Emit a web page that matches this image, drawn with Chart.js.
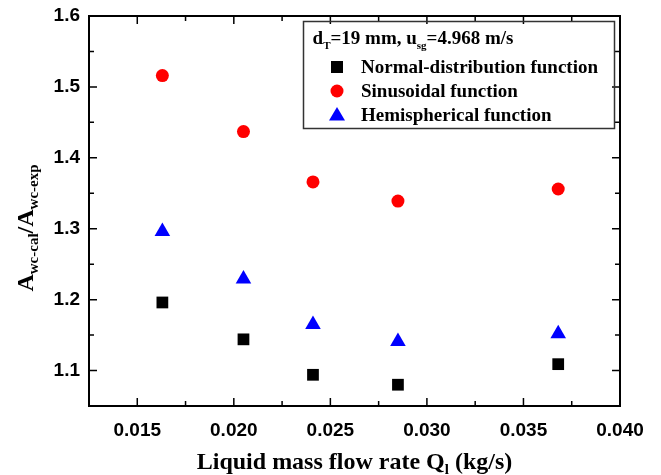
<!DOCTYPE html>
<html>
<head>
<meta charset="utf-8">
<script src="https://cdn.jsdelivr.net/npm/chart.js@4.4.1/dist/chart.umd.min.js"></script>
<style>
  html, body { margin: 0; padding: 0; background: #fff; }
  #wrap { width: 661px; height: 475px; }
</style>
</head>
<body>
<div id="wrap"><canvas id="chart" width="661" height="475"></canvas></div>
<script>
// values
const flowRates = [0.0163, 0.0205, 0.0241, 0.0285, 0.0368];
const normalValues = [1.196, 1.144, 1.094, 1.080, 1.109];
const sinusValues = [1.516, 1.437, 1.366, 1.339, 1.356];
const hemiValues = [1.296, 1.229, 1.165, 1.141, 1.152];

const xTicks = [0.015, 0.020, 0.025, 0.030, 0.035, 0.040];
const yTicks = [1.1, 1.2, 1.3, 1.4, 1.5, 1.6];

const seriesNames = ['Normal-distribution function', 'Sinusoidal function', 'Hemispherical function'];

const SERIF = '"Liberation Serif", "Times New Roman", serif';
const SANS = '"Liberation Sans", Arial, sans-serif';

function toPoints(ys) {
    return flowRates.map((x, i) => ({ x: x, y: ys[i] }));
}

// draws text made of pieces, some of them lowered as subscripts
function drawRich(ctx, parts, x, y) {
    let total = 0;
    parts.forEach(p => {
        ctx.font = 'bold ' + p.size + 'px ' + SERIF;
        p.w = ctx.measureText(p.t).width;
        total += p.w;
    });
    let cx = x - total / 2;
    ctx.textAlign = 'left';
    ctx.textBaseline = 'alphabetic';
    parts.forEach(p => {
        ctx.font = 'bold ' + p.size + 'px ' + SERIF;
        ctx.fillText(p.t, cx, y + (p.dy || 0));
        cx += p.w;
    });
}

function marker(ctx, style, x, y, color) {
    ctx.fillStyle = color;
    ctx.beginPath();
    if (style === 'rect') {
        ctx.rect(x - 6, y - 6, 12, 12);
    } else if (style === 'circle') {
        ctx.arc(x, y, 6.5, 0, Math.PI * 2);
    } else {
        ctx.moveTo(x, y - 8);
        ctx.lineTo(x + 8, y + 5.5);
        ctx.lineTo(x - 8, y + 5.5);
        ctx.closePath();
    }
    ctx.fill();
}

const framePlugin = {
    id: 'frame',
    afterDatasetsDraw(chart) {
        const ctx = chart.ctx;
        const a = chart.chartArea;
        const xs = chart.scales.x, ys = chart.scales.y;
        ctx.save();
        ctx.strokeStyle = '#000';
        ctx.lineWidth = 1.5;
        ctx.beginPath();
        yTicks.forEach((v, i) => {
            const py = ys.getPixelForValue(v);
            ctx.moveTo(a.left, py); ctx.lineTo(a.left + 8, py);
            ctx.moveTo(a.right, py); ctx.lineTo(a.right - 8, py);
            if (i > 0) {
                const pm = ys.getPixelForValue((v + yTicks[i - 1]) / 2);
                ctx.moveTo(a.left, pm); ctx.lineTo(a.left + 5, pm);
                ctx.moveTo(a.right, pm); ctx.lineTo(a.right - 5, pm);
            }
        });
        xTicks.forEach((v, i) => {
            const px = xs.getPixelForValue(v);
            ctx.moveTo(px, a.bottom); ctx.lineTo(px, a.bottom - 8);
            ctx.moveTo(px, a.top); ctx.lineTo(px, a.top + 8);
            if (i > 0) {
                const pm = xs.getPixelForValue((v + xTicks[i - 1]) / 2);
                ctx.moveTo(pm, a.bottom); ctx.lineTo(pm, a.bottom - 5);
                ctx.moveTo(pm, a.top); ctx.lineTo(pm, a.top + 5);
            }
        });
        ctx.stroke();
        ctx.lineWidth = 2;
        ctx.strokeRect(a.left, a.top, a.right - a.left, a.bottom - a.top);
        ctx.restore();
    },
    afterDraw(chart) {
        const ctx = chart.ctx;
        const a = chart.chartArea;
        ctx.save();
        ctx.fillStyle = '#000';

        // x axis title
        drawRich(ctx, [
            { t: 'Liquid mass flow rate Q', size: 24 },
            { t: 'l', size: 15, dy: 5 },
            { t: ' (kg/s)', size: 24 }
        ], (a.left + a.right) / 2, 469);

        // y axis title
        ctx.save();
        ctx.translate(33, 228);
        ctx.rotate(-Math.PI / 2);
        drawRich(ctx, [
            { t: 'A', size: 24 },
            { t: 'wc-cal', size: 15, dy: 5 },
            { t: '/A', size: 24 },
            { t: 'wc-exp', size: 15, dy: 5 }
        ], 0, 0);
        ctx.restore();

        // legend box
        const bx = a.left + 214, by = a.top + 5, bw = 311, bh = 107;
        ctx.strokeStyle = '#333';
        ctx.lineWidth = 1.5;
        ctx.strokeRect(bx + 0.5, by + 0.5, bw, bh);
        ctx.fillStyle = '#000';
        drawRich(ctx, [
            { t: 'd', size: 19 },
            { t: 'T', size: 11, dy: 5 },
            { t: '=19 mm, u', size: 19 },
            { t: 'sg', size: 11, dy: 5 },
            { t: '=4.968 m/s', size: 19 }
        ], bx + 110, by + 23);

        chart.data.datasets.forEach((ds, i) => {
            const my = by + 46 + i * 24;
            marker(ctx, ds.pointStyle, bx + 34, my, ds.backgroundColor);
            ctx.fillStyle = '#000';
            ctx.font = 'bold 19px ' + SERIF;
            ctx.textAlign = 'left';
            ctx.textBaseline = 'middle';
            ctx.fillText(ds.label, bx + 58, my + 1);
        });
        ctx.restore();
    }
};

const ctx = document.getElementById('chart').getContext('2d');
new Chart(ctx, {
    type: 'scatter',
    data: {
        datasets: [{
            label: seriesNames[0],
            data: toPoints(normalValues),
            pointStyle: 'rect',
            pointRadius: 8.3,
            backgroundColor: '#000000',
            borderColor: '#000000',
            borderWidth: 0
        }, {
            label: seriesNames[1],
            data: toPoints(sinusValues),
            pointStyle: 'circle',
            pointRadius: 6.5,
            backgroundColor: '#ff0000',
            borderColor: '#ff0000',
            borderWidth: 0
        }, {
            label: seriesNames[2],
            data: toPoints(hemiValues),
            pointStyle: 'triangle',
            pointRadius: 9,
            backgroundColor: '#0000ff',
            borderColor: '#0000ff',
            borderWidth: 0
        }]
    },
    options: {
        responsive: false,
        animation: false,
        layout: { padding: { left: 0, top: 16, right: 41, bottom: 0 } },
        plugins: {
            legend: { display: false },
            tooltip: { enabled: false }
        },
        scales: {
            x: {
                type: 'linear',
                min: 0.0125,
                max: 0.040,
                grid: { display: false, drawTicks: false },
                border: { display: false },
                afterBuildTicks: s => { s.ticks = xTicks.map(v => ({ value: v })); },
                afterFit: s => { s.height = 69; s.paddingLeft = 0; s.paddingRight = 0; },
                ticks: {
                    padding: 13,
                    color: '#000',
                    font: { family: SANS, size: 19, weight: 'bold' },
                    callback: v => v.toFixed(3)
                }
            },
            y: {
                type: 'linear',
                min: 1.05,
                max: 1.6,
                grid: { display: false, drawTicks: false },
                border: { display: false },
                afterBuildTicks: s => { s.ticks = yTicks.map(v => ({ value: v })); },
                afterFit: s => { s.width = 89; s.paddingTop = 0; s.paddingBottom = 0; },
                ticks: {
                    padding: 9,
                    color: '#000',
                    font: { family: SANS, size: 19, weight: 'bold' },
                    callback: v => v.toFixed(1)
                }
            }
        }
    },
    plugins: [framePlugin]
});
</script>
</body>
</html>
